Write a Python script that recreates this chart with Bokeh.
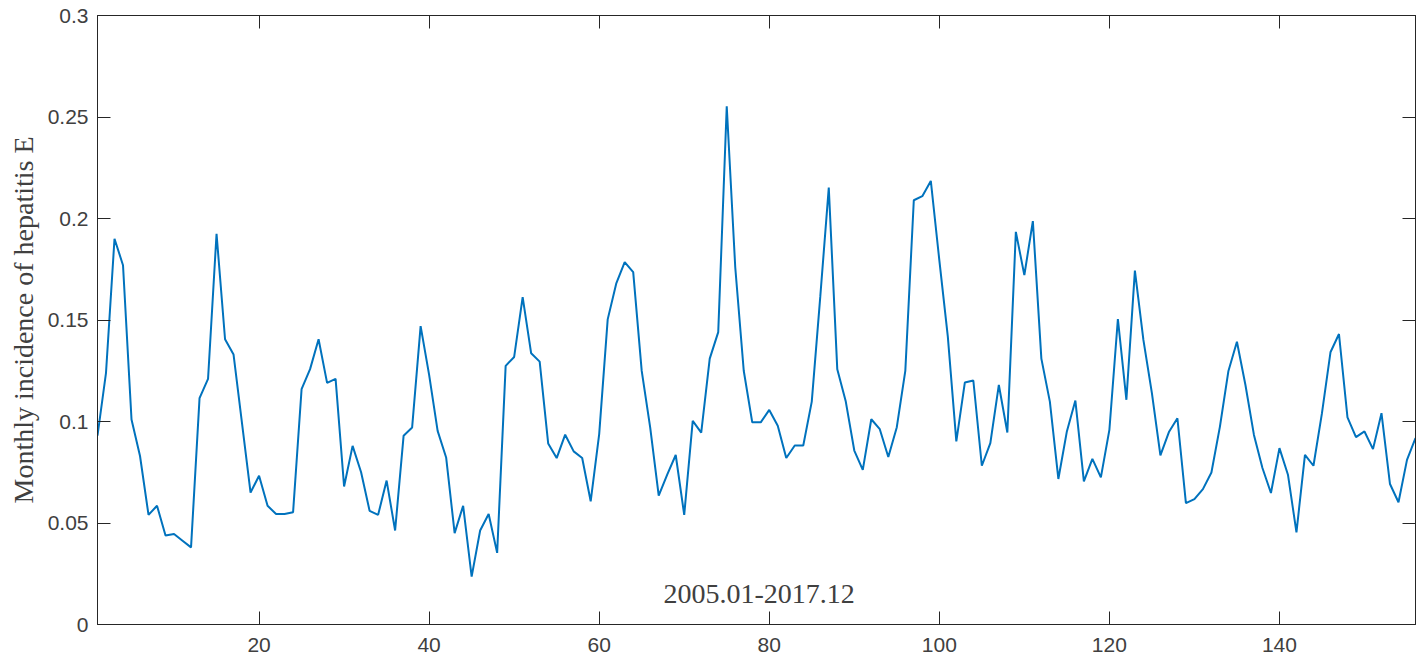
from bokeh.plotting import figure
from bokeh.models import Range1d, LinearAxis, FixedTicker, Label, ColumnDataSource
from bokeh.embed import file_html
from bokeh.resources import INLINE

months = list(range(1, 157))
incidence = [
    0.093, 0.124, 0.190, 0.177, 0.101, 0.083, 0.054, 0.0585, 0.0438, 0.0446,
    0.0413, 0.038, 0.1115, 0.121, 0.1925, 0.1405, 0.133, 0.099, 0.065, 0.0733,
    0.0585, 0.0544, 0.0544, 0.0553, 0.1159, 0.1258, 0.1405, 0.119, 0.121, 0.068,
    0.088, 0.075, 0.056, 0.054, 0.0709, 0.0463, 0.093, 0.097, 0.147, 0.123,
    0.0954, 0.0823, 0.045, 0.0585, 0.0236, 0.0463, 0.0544, 0.0353, 0.1274, 0.1318,
    0.1613, 0.1336, 0.1295, 0.0892, 0.082, 0.0935, 0.0853, 0.082, 0.0607, 0.0938,
    0.1503, 0.1679, 0.1785, 0.1736, 0.1249, 0.097, 0.0635, 0.0738, 0.0835, 0.054,
    0.1003, 0.0945, 0.131, 0.144, 0.2553, 0.176, 0.125, 0.0996, 0.0996, 0.1057,
    0.0979, 0.082, 0.0882, 0.0882, 0.1098, 0.1615, 0.2152, 0.1257, 0.1098, 0.0857,
    0.0762, 0.1011, 0.0962, 0.0825, 0.0972, 0.1249, 0.209, 0.211, 0.2185, 0.1795,
    0.1418, 0.0902, 0.1192, 0.1202, 0.0782, 0.0893, 0.118, 0.0946, 0.1934, 0.1721,
    0.1987, 0.131, 0.1098, 0.0717, 0.0951, 0.1103, 0.0705, 0.0816, 0.0725, 0.0959,
    0.1505, 0.1107, 0.1743, 0.1402, 0.114, 0.0833, 0.0948, 0.1016, 0.0598, 0.0618,
    0.0667, 0.0749, 0.0975, 0.1249, 0.1393, 0.118, 0.0934, 0.0771, 0.0648, 0.0869,
    0.0738, 0.0454, 0.0836, 0.0782, 0.1041, 0.1341, 0.1431, 0.102, 0.0923, 0.0951,
    0.0864, 0.1041, 0.0692, 0.0602, 0.0811, 0.0918,
]
x_ticks = [20, 40, 60, 80, 100, 120, 140]
y_ticks = [0, 0.05, 0.1, 0.15, 0.2, 0.25, 0.3]
y_tick_labels = ["0", "0.05", "0.1", "0.15", "0.2", "0.25", "0.3"]
y_label = "Monthly incidence of hepatitis E"
period_text = "2005.01-2017.12"

AX = "#262626"
TXT = "#404040"

p = figure(width=1421, height=661, output_backend="svg", toolbar_location=None,
           x_range=Range1d(1, 156), y_range=Range1d(0, 0.3),
           min_border_left=97, min_border_right=6, min_border_top=15, min_border_bottom=37)
p.background_fill_color = "white"
p.border_fill_color = "white"
p.outline_line_color = AX
p.outline_line_width = 1
p.xgrid.visible = False
p.ygrid.visible = False

src = ColumnDataSource(dict(x=months, y=incidence))
p.line("x", "y", source=src, line_color="#0072BD", line_width=2)

def style(ax, ticks, labels=True):
    ax.ticker = FixedTicker(ticks=ticks)
    ax.major_tick_in = 13
    ax.major_tick_out = 0
    ax.minor_tick_line_color = None
    ax.major_tick_line_color = AX
    ax.axis_line_color = AX
    ax.major_label_text_font = "Liberation Sans"
    if labels:
        ax.major_label_text_font_size = "21px"
        ax.major_label_text_color = TXT
    else:
        ax.major_label_text_font_size = "0px"
        ax.major_label_text_color = None
        ax.major_label_text_alpha = 0
        ax.major_label_standoff = 0

style(p.xaxis[0], x_ticks)
p.xaxis[0].major_label_standoff = 13
style(p.yaxis[0], y_ticks)
p.yaxis[0].major_label_standoff = 9
p.yaxis[0].major_label_overrides = {t: s for t, s in zip(y_ticks, y_tick_labels)}
p.yaxis[0].axis_label = y_label
p.yaxis[0].axis_label_text_font = "Liberation Serif"
p.yaxis[0].axis_label_text_font_size = "28px"
p.yaxis[0].axis_label_text_font_style = "normal"
p.yaxis[0].axis_label_text_color = TXT
p.yaxis[0].axis_label_standoff = 6

right = LinearAxis()
style(right, y_ticks, labels=False)
p.add_layout(right, "right")
top = LinearAxis()
style(top, x_ticks, labels=False)
p.add_layout(top, "above")

p.add_layout(Label(x=78.8, y=0.0148, text=period_text, text_font="Liberation Serif",
                   text_font_size="28px", text_color=TXT, text_align="center",
                   text_baseline="middle"))

open("out.html", "w").write(file_html(p, INLINE))
